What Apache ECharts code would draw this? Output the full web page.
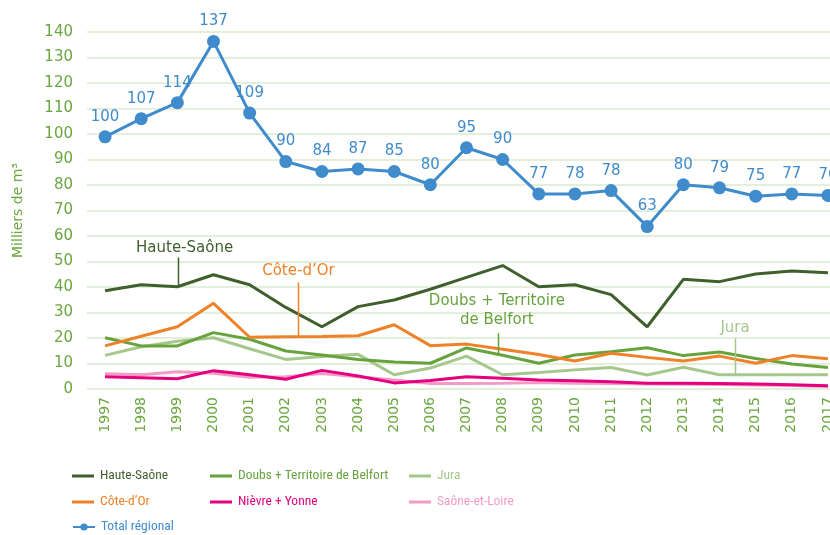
<!DOCTYPE html>
<html>
<head>
<meta charset="utf-8">
<script src="https://cdn.jsdelivr.net/npm/echarts@6/dist/echarts.min.js"></script>
<style>
  html, body { margin: 0; padding: 0; background: #fff; }
  #chart { width: 830px; height: 535px; }
</style>
</head>
<body>
<div id="chart"></div>
<script>
// données (milliers de m³)
const years = ['1997', '1998', '1999', '2000', '2001', '2002', '2003', '2004', '2005', '2006', '2007',
  '2008', '2009', '2010', '2011', '2012', '2013', '2014', '2015', '2016', '2017']
// positions tracées du total, et étiquettes affichées
const totalRegional = [98.9, 106.0, 112.3, 136.3, 108.2, 89.2, 85.3, 86.3, 85.3, 80.1, 94.6, 90.0, 76.5, 76.5, 77.8, 63.7, 80.1, 78.9, 75.6, 76.5, 75.9]
const totalLabels = ['100', '107', '114', '137', '109', '90', '84', '87', '85', '80', '95', '90', '77', '78', '78', '63', '80', '79', '75', '77', '76']
const hauteSaone = [38.5, 40.9, 40.1, 44.8, 40.9, 32, 24.4, 32.3, 34.9, 39.1, 43.8, 48.4, 40.1, 40.9, 37, 24.4, 43, 42.1, 45.1, 46.3, 45.6]
const doubsBelfort = [20.1, 16.9, 16.9, 22.1, 19.5, 14.9, 13.3, 11.6, 10.6, 10.1, 16.1, 13.2, 10.1, 13.3, 14.6, 16.2, 13.1, 14.5, 12, 9.8, 8.4]
const jura = [13.2, 16.6, 18.7, 20.1, 15.8, 11.6, 12.7, 13.6, 5.6, 8.2, 12.9, 5.6, 6.5, 7.5, 8.4, 5.5, 8.5, 5.6, 5.6, 5.6, 5.6]
const coteDOr = [16.9, 20.7, 24.4, 33.6, 20.3, 20.5, 20.6, 20.9, 25.2, 17, 17.6, 15.6, 13.5, 11, 14, 12.4, 11, 12.9, 10.1, 13.1, 11.9]
const nievreYonne = [4.8, 4.4, 4.0, 7.2, 5.6, 3.8, 7.3, 5.1, 2.4, 3.3, 4.8, 4.2, 3.5, 3.2, 2.8, 2.3, 2.3, 2.2, 2.0, 1.7, 1.3]
const saoneLoire = [6.0, 5.6, 6.8, 6.2, 4.6, 4.8, 6.1, 4.8, 3.5, 2.2, 2.2, 2.3, 2.5, 2.3, 2.2, 2.0, 1.9, 1.8, 1.6, 1.4, 1.0]

// annotations : texte, position x (index fractionnaire), valeur du texte, haut et bas du trait
const annotations = [
  { text: 'Haute-Saône', x: 2.2, y: 55.1, lineX: 2.03, top: 51.6, bottom: 40.1, color: '#3f5f2c' },
  { text: 'Côte-d\u2019Or', x: 5.35, y: 46.1, lineX: 5.34, top: 41.8, bottom: 20.6, color: '#ef8128' },
  { text: 'Doubs + Territoire\nde Belfort', x: 10.84, y: 30.7, lineX: 10.87, top: 21.9, bottom: 14.0, color: '#67a33d' },
  { text: 'Jura', x: 17.43, y: 24.0, lineX: 17.44, top: 19.9, bottom: 5.6, color: '#a5c78b' }
]

const colors = {
  hs: '#3f5f2c',
  doubs: '#67a33d',
  jura: '#a5c78b',
  co: '#ef8128',
  ny: '#e5007e',
  sl: '#f39bc4',
  total: '#3f8bcb'
}

const font = 'DejaVu Sans'
const legendFont = '"Liberation Sans Narrow", "Roboto Condensed", "Liberation Sans", sans-serif'
const barIcon = 'path://M0,0H22V3H0Z'

const chart = echarts.init(document.getElementById('chart'))

const lineSeries = (name, data, color) => ({
  name,
  type: 'line',
  data,
  symbol: 'none',
  lineStyle: { color, width: 3 },
  itemStyle: { color },
  emphasis: { disabled: true },
  z: 2
})

// une légende par entrée pour reproduire la grille 3 colonnes
const legendCell = (name, color, left, top, icon, itemHeight) => ({
  left,
  top,
  orient: 'horizontal',
  itemWidth: 22,
  itemHeight: itemHeight || 14,
  padding: 0,
  data: [icon ? { name, icon, textStyle: { color } } : { name, textStyle: { color } }],
  textStyle: { fontFamily: legendFont, fontSize: 13.5, padding: [0, 0, 0, 1] }
})

chart.setOption({
  animation: false,
  grid: { left: 87, top: 32, width: 759, height: 357, containLabel: false, outerBoundsMode: 'none' },
  xAxis: {
    type: 'category',
    data: years,
    boundaryGap: true,
    axisLine: { show: false },
    axisTick: { show: false },
    axisLabel: {
      rotate: 90,
      margin: 8,
      color: '#6aa63e',
      fontFamily: font,
      fontSize: 14
    }
  },
  yAxis: {
    type: 'value',
    min: 0,
    max: 140,
    interval: 10,
    name: 'Milliers de m³',
    nameLocation: 'middle',
    nameGap: 62,
    nameTextStyle: { color: '#6aa63e', fontFamily: font, fontSize: 14 },
    axisLine: { show: false },
    axisTick: { show: false },
    axisLabel: { color: '#6aa63e', fontFamily: font, fontSize: 15, margin: 14 },
    splitLine: { lineStyle: { color: '#e3eedb', width: 2 } }
  },
  legend: [
    legendCell('Haute-Saône', colors.hs, 72, 469, barIcon),
    legendCell('Côte-d\u2019Or', colors.co, 72, 495, barIcon),
    legendCell('Total régional', colors.total, 72, 520, null, 9),
    legendCell('Doubs + Territoire de Belfort', colors.doubs, 210, 469, barIcon),
    legendCell('Nièvre + Yonne', colors.ny, 210, 495, barIcon),
    legendCell('Jura', colors.jura, 409, 469, barIcon),
    legendCell('Saône-et-Loire', colors.sl, 409, 495, barIcon)
  ],
  series: [
    lineSeries('Saône-et-Loire', saoneLoire, colors.sl),
    lineSeries('Nièvre + Yonne', nievreYonne, colors.ny),
    lineSeries('Jura', jura, colors.jura),
    lineSeries('Doubs + Territoire de Belfort', doubsBelfort, colors.doubs),
    lineSeries('Côte-d\u2019Or', coteDOr, colors.co),
    lineSeries('Haute-Saône', hauteSaone, colors.hs),
    {
      name: 'Total régional',
      type: 'line',
      data: totalRegional,
      symbol: 'circle',
      symbolSize: 13,
      lineStyle: { color: colors.total, width: 3 },
      itemStyle: { color: colors.total },
      label: {
        show: true,
        position: 'top',
        distance: 6,
        color: colors.total,
        fontFamily: font,
        fontSize: 15,
        formatter: p => totalLabels[p.dataIndex]
      },
      emphasis: { disabled: true },
      z: 3
    }
  ]
})

// annotations placées dans l'espace des données
const toPx = (xIdx, val) => {
  const i0 = Math.floor(xIdx)
  const p0 = chart.convertToPixel({ gridIndex: 0 }, [i0, val])
  const p1 = chart.convertToPixel({ gridIndex: 0 }, [i0 + 1, val])
  const f = xIdx - i0
  return [p0[0] + (p1[0] - p0[0]) * f, p0[1]]
}

const graphics = []
annotations.forEach(a => {
  const t = toPx(a.x, a.y)
  const l0 = toPx(a.lineX, a.top)
  const l1 = toPx(a.lineX, a.bottom)
  graphics.push({
    type: 'text',
    x: t[0],
    y: t[1],
    z: 10,
    style: {
      text: a.text,
      fill: a.color,
      font: '15px ' + font,
      align: 'center',
      verticalAlign: 'middle',
      lineHeight: 19
    }
  })
  graphics.push({
    type: 'line',
    z: 10,
    shape: { x1: Math.round(l0[0]) + 0.5, y1: l0[1], x2: Math.round(l1[0]) + 0.5, y2: l1[1] },
    style: { stroke: a.color, lineWidth: 1.5 }
  })
})
chart.setOption({ graphic: graphics })
</script>
</body>
</html>
